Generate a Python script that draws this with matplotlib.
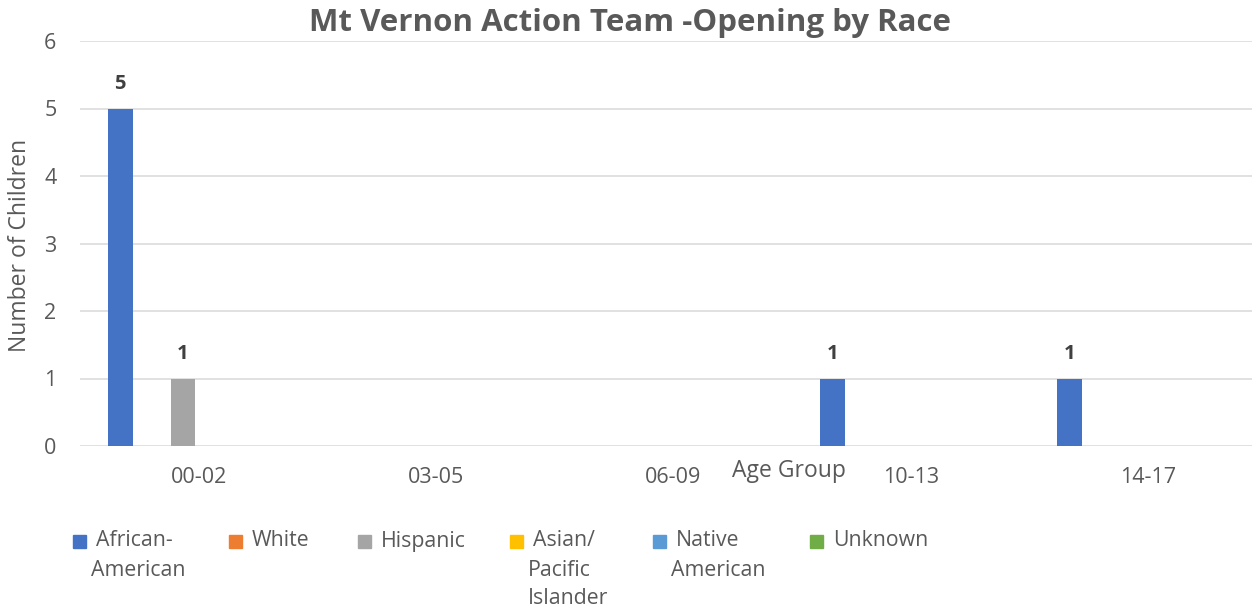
import numpy as np
import matplotlib
matplotlib.use("Agg")
import matplotlib.pyplot as plt
from matplotlib.patches import Rectangle

plt.rcParams['font.family'] = ['Open Sans', 'DejaVu Sans']

# data
age_groups = ['00-02', '03-05', '06-09', '10-13', '14-17']
races = ['African-\nAmerican', 'White', 'Hispanic', 'Asian/\nPacific\nIslander', 'Native\nAmerican', 'Unknown']
colors = ['#4472C4', '#ED7D31', '#A5A5A5', '#FFC000', '#5B9BD5', '#70AD47']
african_american = [5, 0, 0, 1, 1]
white = [0, 0, 0, 0, 0]
hispanic = [1, 0, 0, 0, 0]
asian_pacific = [0, 0, 0, 0, 0]
native_american = [0, 0, 0, 0, 0]
unknown = [0, 0, 0, 0, 0]
series = [african_american, white, hispanic, asian_pacific, native_american, unknown]

txt = '#595959'
fig = plt.figure(figsize=(12.52, 6.10), dpi=100)
ax = fig.add_axes([80/1252, 1-446/610, 1-80/1252, (446-41)/610])

x = np.arange(len(age_groups))
step = 0.1325
width = 0.105
for i, (vals, c) in enumerate(zip(series, colors)):
    pos = x + (i - 2.5) * step
    ax.bar(pos, vals, width=width, color=c, zorder=3)
    for p, v in zip(pos, vals):
        if v > 0:
            ax.text(p, v + 0.22, str(v), ha='center', va='bottom',
                    fontsize=14.5, fontweight='bold', color='#404040')

ax.set_xlim(-0.5, 4.5 - 15/237.7)
ax.set_ylim(0, 6)
ax.set_yticks(range(0, 7))
ax.grid(axis='y', color='#D9D9D9', lw=1.1, zorder=0)
for s in ax.spines.values():
    s.set_visible(False)
ax.tick_params(length=0, colors=txt, labelsize=15.5)
ax.tick_params(axis='y', pad=17)
ax.tick_params(axis='x', pad=15)
ax.set_xticks(x)
ax.set_xticklabels(age_groups)

fig.text(630/1252, 1-23/610, 'Mt Vernon Action Team -Opening by Race', ha='center', va='center',
         fontsize=22.5, fontweight='bold', color=txt)
fig.text(20/1252, 1-245/610, 'Number of Children', rotation=90, ha='center', va='center',
         fontsize=16.5, color=txt)
fig.text(789/1252, 1-471/610, 'Age Group', ha='center', va='center', fontsize=16.5, color=txt)

# legend
leg_x = [73, 229, 358, 510, 653, 810]
for lx, name, c in zip(leg_x, races, colors):
    fig.add_artist(Rectangle((lx/1252, 1-548/610), 13/1252, 13/610, color=c, transform=fig.transFigure))
    lines = name.split('\n')
    for k, ln in enumerate(lines):
        off = 23 if k == 0 else 18
        fig.text((lx + off)/1252, 1-(541 + k*29)/610, ln, ha='left', va='center',
                 fontsize=15.3, color=txt)

fig.savefig('out.png', dpi=100)
